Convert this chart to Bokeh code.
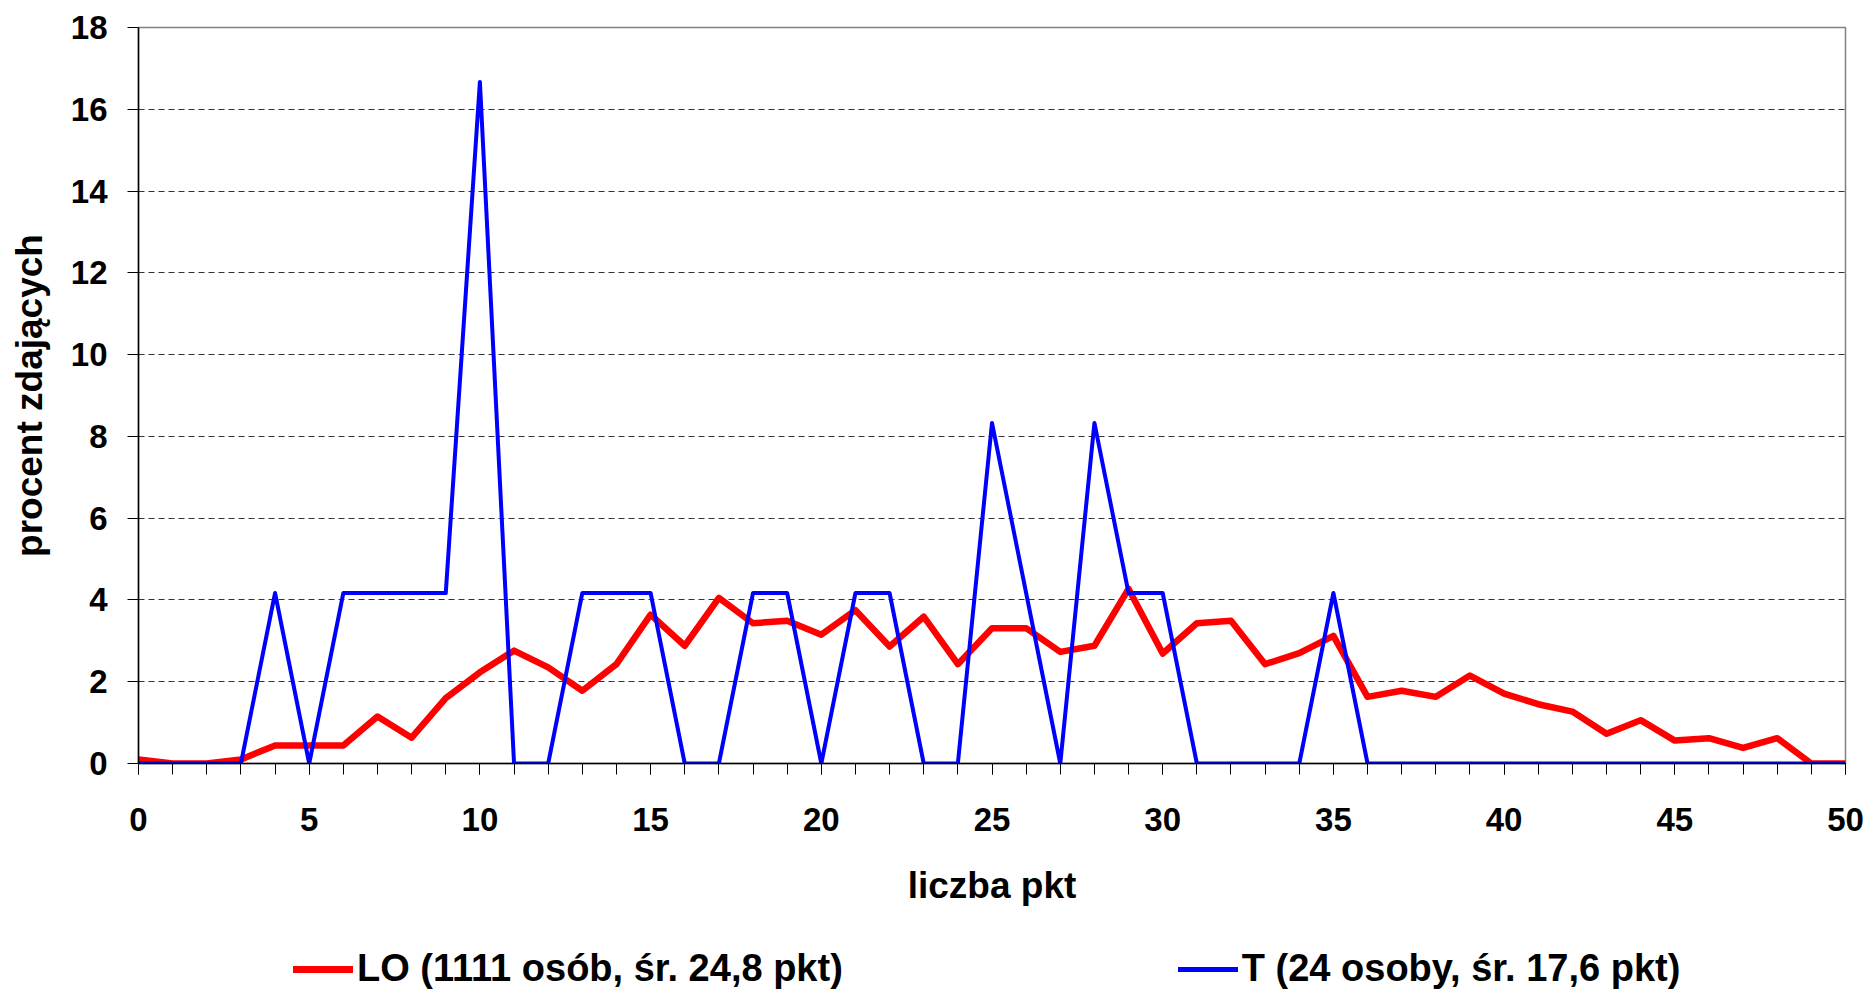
from bokeh.plotting import figure
from bokeh.layouts import column
from bokeh.models import Range1d, SingleIntervalTicker, Legend, LegendItem, ColumnDataSource
from bokeh.embed import file_html
from bokeh.resources import INLINE

points = list(range(0, 51))
lo_pct = [0.1, 0.0, 0.0, 0.1, 0.44, 0.44, 0.44, 1.15, 0.63, 1.6, 2.23,
          2.76, 2.35, 1.78, 2.43, 3.64, 2.88, 4.05, 3.43, 3.49, 3.15,
          3.75, 2.86, 3.59, 2.43, 3.31, 3.31, 2.73, 2.88, 4.27, 2.69,
          3.43, 3.49, 2.43, 2.7, 3.12, 1.63, 1.78, 1.63, 2.15, 1.71,
          1.45, 1.27, 0.73, 1.06, 0.56, 0.62, 0.38, 0.62, 0.0, 0.0]
t_pct = [0, 0, 0, 0, 4.17, 0, 4.17, 4.17, 4.17, 4.17, 16.67,
         0, 0, 4.17, 4.17, 4.17, 0, 0, 4.17, 4.17, 0,
         4.17, 4.17, 0, 0, 8.33, 4.17, 0, 8.33, 4.17, 4.17,
         0, 0, 0, 0, 4.17, 0, 0, 0, 0, 0,
         0, 0, 0, 0, 0, 0, 0, 0, 0, 0]
lo_label = "LO (1111 osób, śr. 24,8 pkt)"
t_label = "T (24 osoby, śr. 17,6 pkt)"
x_title = "liczba pkt"
y_title = "procent zdających"

FONT = "Liberation Sans"
RED = "#ff0000"
BLUE = "#0000ff"

src = ColumnDataSource(dict(x=points, lo=lo_pct, t=t_pct))

p = figure(frame_width=1707, frame_height=736,
           min_border_left=138, min_border_right=20, min_border_top=27, min_border_bottom=150,
           x_range=Range1d(0, 50), y_range=Range1d(0, 18),
           output_backend="svg", toolbar_location=None,
           background_fill_color="white", border_fill_color="white")

p.outline_line_color = "#808080"
p.outline_line_width = 1.5

p.line("x", "lo", source=src, line_color=RED, line_width=6.5, line_join="round")
p.line("x", "t", source=src, line_color=BLUE, line_width=4, line_join="round")

# x axis
p.xaxis.ticker = SingleIntervalTicker(interval=5, num_minor_ticks=5)
p.xaxis.axis_label = x_title
p.xaxis.axis_line_color = "black"
p.xaxis.axis_line_width = 1.5
p.xaxis.major_tick_out = 11
p.xaxis.major_tick_in = 0
p.xaxis.minor_tick_out = 11
p.xaxis.minor_tick_in = 0
p.xaxis.major_tick_line_color = "black"
p.xaxis.minor_tick_line_color = "black"
p.xaxis.major_label_standoff = 33
p.xaxis.axis_label_standoff = 31

# y axis
p.yaxis.ticker = SingleIntervalTicker(interval=2, num_minor_ticks=0)
p.yaxis.axis_label = y_title
p.yaxis.axis_line_color = "black"
p.yaxis.axis_line_width = 1.5
p.yaxis.major_tick_out = 11
p.yaxis.major_tick_in = 0
p.yaxis.minor_tick_line_color = None
p.yaxis.major_tick_line_color = "black"
p.yaxis.major_label_standoff = 20
p.yaxis.axis_label_standoff = 18

for ax in (p.xaxis, p.yaxis):
    ax.major_label_text_font = FONT
    ax.major_label_text_font_style = "bold"
    ax.major_label_text_font_size = "33px"
    ax.major_label_text_color = "black"
    ax.axis_label_text_font = FONT
    ax.axis_label_text_font_style = "bold"
    ax.axis_label_text_font_size = "37px"
    ax.axis_label_text_color = "black"

p.xgrid.grid_line_color = None
p.ygrid.grid_line_color = "#333333"
p.ygrid.grid_line_dash = "6 4"
p.ygrid.grid_line_width = 1

# legend strip below the chart (its own renderers lie outside its visible range)
pl = figure(width=1865, height=76, x_range=Range1d(0, 50), y_range=Range1d(-3, -2),
            min_border=0, output_backend="svg", toolbar_location=None,
            background_fill_color="white", border_fill_color="white")
pl.axis.visible = False
pl.grid.visible = False
pl.outline_line_color = None
k_lo = pl.line("x", "lo", source=src, line_color=RED, line_width=7, line_cap="round")
k_t = pl.line("x", "t", source=src, line_color=BLUE, line_width=5, line_cap="round")

legend = Legend(items=[LegendItem(label=lo_label, renderers=[k_lo]),
                       LegendItem(label=t_label, renderers=[k_t])],
                orientation="horizontal", location=(155, -1),
                spacing=335, glyph_width=60, label_standoff=4,
                border_line_color=None, background_fill_alpha=0,
                label_text_font=FONT, label_text_font_style="bold",
                label_text_font_size="38px", label_text_color="black",
                margin=0, padding=0)
pl.add_layout(legend, "center")

layout = column(p, pl, spacing=0)
open("out.html", "w").write(file_html(layout, INLINE))
